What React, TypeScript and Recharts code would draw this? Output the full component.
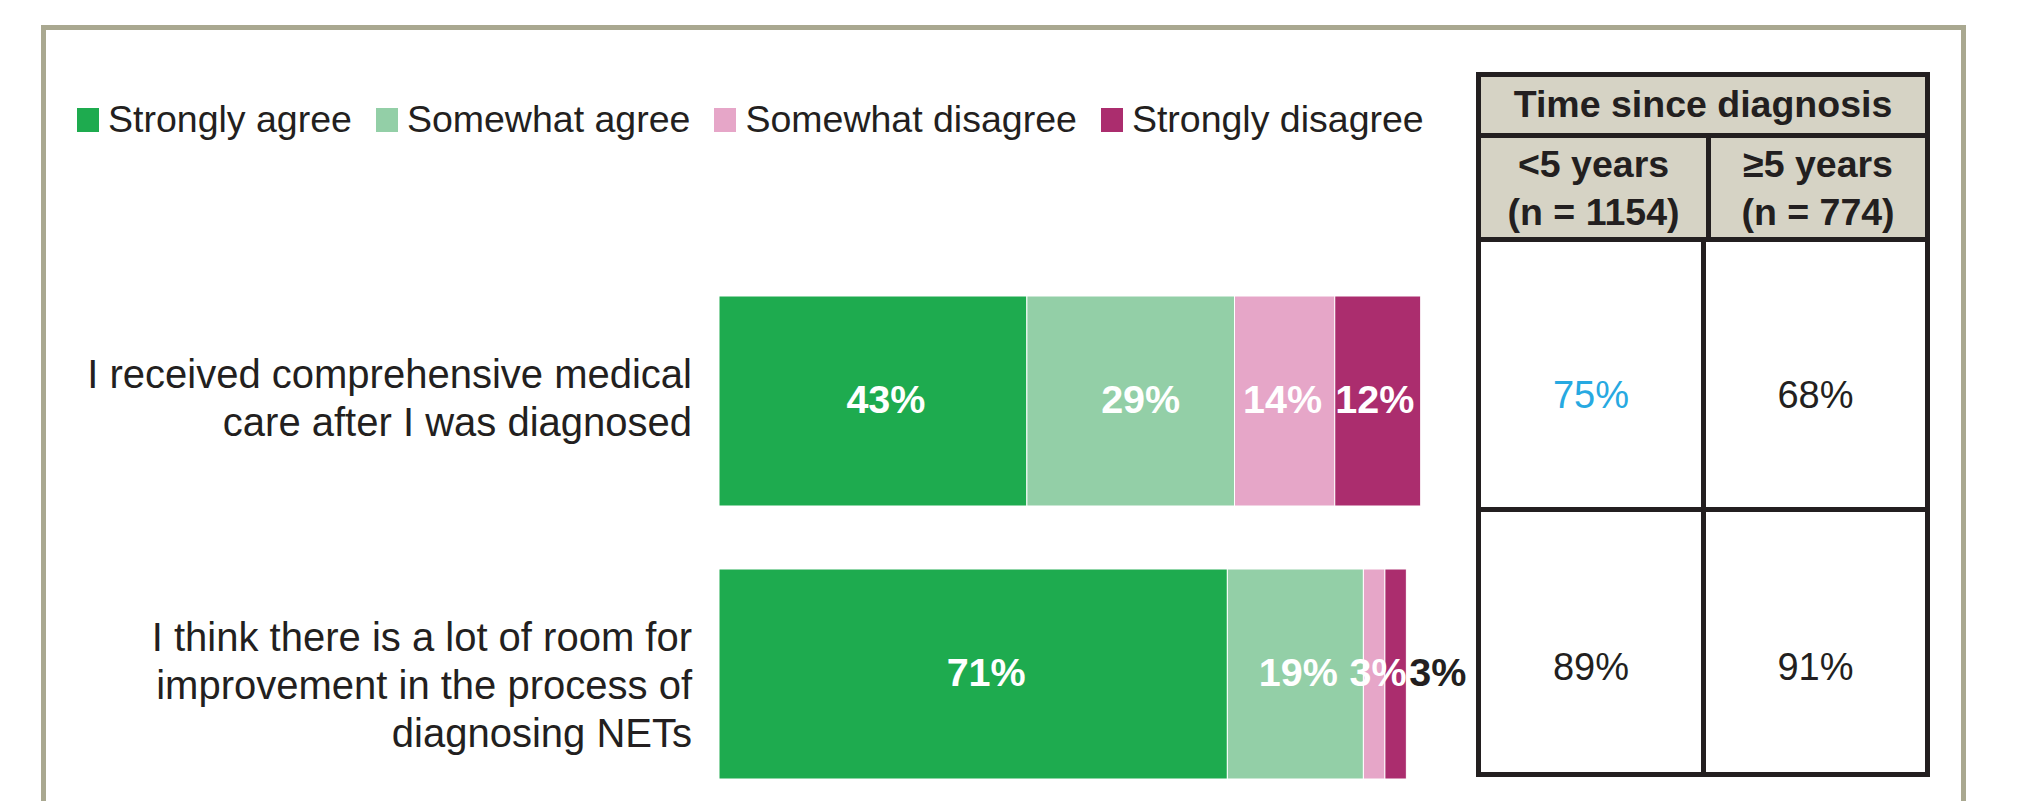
import React from "react";
import { BarChart, Bar, XAxis, YAxis, LabelList } from "recharts";

// survey data
const statements = [
  "I received comprehensive medical care after I was diagnosed",
  "I think there is a lot of room for improvement in the process of diagnosing NETs"
];
const statementLines = [
  ["I received comprehensive medical", "care after I was diagnosed"],
  ["I think there is a lot of room for", "improvement in the process of", "diagnosing NETs"]
];
const stronglyAgree = [43, 71];
const somewhatAgree = [29, 19];
const somewhatDisagree = [14, 3];
const stronglyDisagree = [12, 3];

// side table: agreement by time since diagnosis
const tableTitle = "Time since diagnosis";
const groupLabels = ["<5 years", "≥5 years"];
const groupSizes = ["(n = 1154)", "(n = 774)"];
const underFiveYears = [75, 89];
const fivePlusYears = [68, 91];

type SeriesKey = "stronglyAgree" | "somewhatAgree" | "somewhatDisagree" | "stronglyDisagree";

const SERIES: { key: SeriesKey; name: string; color: string }[] = [
  { key: "stronglyAgree", name: "Strongly agree", color: "#1EAB4F" },
  { key: "somewhatAgree", name: "Somewhat agree", color: "#93CFA7" },
  { key: "somewhatDisagree", name: "Somewhat disagree", color: "#E6A6C8" },
  { key: "stronglyDisagree", name: "Strongly disagree", color: "#AB2D6E" }
];

const data = statements.map((statement, i) => ({
  statement,
  stronglyAgree: stronglyAgree[i],
  somewhatAgree: somewhatAgree[i],
  somewhatDisagree: somewhatDisagree[i],
  stronglyDisagree: stronglyDisagree[i]
}));

const FONT = '"Liberation Sans", Arial, Helvetica, sans-serif';
const INK = "#231F20";
const FRAME = "#A9A890";
const HEAD_BG = "#D6D3C5";
const HIGHLIGHT = "#27A9E1";

// small label nudges to sit like the original
const LABEL_DX: Partial<Record<SeriesKey, number[]>> = {
  stronglyAgree: [13, 13],
  somewhatAgree: [10, 3],
  somewhatDisagree: [-2, 4],
  stronglyDisagree: [-3, 0]
};
const TICK_DY = [-3, 11];

const makeLabel = (key: SeriesKey, isLast: boolean) => (props: any) => {
  const x = Number(props.x);
  const y = Number(props.y);
  const w = Number(props.width);
  const h = Number(props.height);
  const idx = Number(props.index ?? 0);
  const baseY = y + h / 2 + 12;
  if (isLast && w < 40) {
    return (
      <text x={x + w + 3} y={baseY} fill={INK} fontSize={39.5} fontWeight="bold" fontFamily={FONT} textAnchor="start">
        {props.value}%
      </text>
    );
  }
  const dx = LABEL_DX[key]?.[idx] ?? 0;
  return (
    <text x={x + w / 2 + dx} y={baseY} fill="#FFFFFF" fontSize={39.5} fontWeight="bold" fontFamily={FONT} textAnchor="middle">
      {props.value}%
    </text>
  );
};

const StatementTick = (props: any) => {
  const { x, y, payload } = props;
  const idx = payload?.index ?? 0;
  const lines = statementLines[idx] || [String(payload?.value)];
  const lineH = 48;
  const first = Number(y) - ((lines.length - 1) * lineH) / 2 + 14 + (TICK_DY[idx] || 0);
  return (
    <text x={x} y={first} textAnchor="end" fill={INK} fontSize={40} fontFamily={FONT}>
      {lines.map((l: string, i: number) => (
        <tspan key={i} x={x} y={first + i * lineH}>
          {l}
        </tspan>
      ))}
    </text>
  );
};

const Legend = () => (
  <div style={{ position: "absolute", left: 77, top: 100, height: 40, display: "flex", alignItems: "center" }}>
    {SERIES.map((s, i) => (
      <div key={s.key} style={{ display: "flex", alignItems: "center", marginLeft: i === 0 ? 0 : 24 }}>
        <div style={{ width: 22, height: 24, background: s.color, marginRight: 9 }} />
        <span style={{ fontSize: 37.5, lineHeight: 1, color: INK, whiteSpace: "nowrap" }}>{s.name}</span>
      </div>
    ))}
  </div>
);

const LINE = 5;
const COL1 = 225;

const SideTable = () => {
  const cols = [underFiveYears, fivePlusYears];
  const rowPads = [40, 50];
  return (
    <div
      style={{
        position: "absolute",
        left: 1476,
        top: 72,
        width: 454,
        height: 705,
        border: `${LINE}px solid ${INK}`,
        boxSizing: "border-box",
        display: "flex",
        flexDirection: "column",
        color: INK
      }}
    >
      <div
        style={{
          height: 56,
          background: HEAD_BG,
          borderBottom: `${LINE}px solid ${INK}`,
          display: "flex",
          alignItems: "center",
          justifyContent: "center",
          fontWeight: "bold",
          fontSize: 37.5,
          lineHeight: 1
        }}
      >
        {tableTitle}
      </div>
      <div style={{ height: 99, display: "flex", background: HEAD_BG, borderBottom: `${LINE}px solid ${INK}` }}>
        {groupLabels.map((g, c) => (
          <div
            key={g}
            style={{
              flex: c === 0 ? `0 0 ${COL1}px` : "1 1 auto",
              borderRight: c === 0 ? `${LINE}px solid ${INK}` : "none",
              display: "flex",
              flexDirection: "column",
              alignItems: "center",
              justifyContent: "center",
              fontWeight: "bold",
              fontSize: 37.5,
              lineHeight: "48px"
            }}
          >
            <span>{g}</span>
            <span>{groupSizes[c]}</span>
          </div>
        ))}
      </div>
      {statements.map((_, r) => (
        <div
          key={r}
          style={{
            flex: r === 0 ? "0 0 265px" : "1 1 auto",
            display: "flex",
            borderBottom: r === 0 ? `${LINE}px solid ${INK}` : "none"
          }}
        >
          {cols.map((col, c) => (
            <div
              key={c}
              style={{
                flex: c === 0 ? `0 0 ${COL1}px` : "1 1 auto",
                borderRight: c === 0 ? `${LINE}px solid ${INK}` : "none",
                display: "flex",
                alignItems: "center",
                justifyContent: "center",
                paddingTop: rowPads[r],
                boxSizing: "border-box",
                fontSize: 38,
                lineHeight: 1,
                color: r === 0 && c === 0 ? HIGHLIGHT : INK
              }}
            >
              {col[r]}%
            </div>
          ))}
        </div>
      ))}
    </div>
  );
};

export default function App() {
  return (
    <div
      style={{
        position: "absolute",
        left: 0,
        top: 0,
        width: 2021,
        height: 801,
        overflow: "hidden",
        background: "#FFFFFF",
        fontFamily: FONT
      }}
    >
      <div
        style={{
          position: "absolute",
          left: 41,
          top: 25,
          width: 1925,
          height: 900,
          border: `${LINE}px solid ${FRAME}`,
          boxSizing: "border-box"
        }}
      />
      <Legend />
      <div style={{ position: "absolute", left: 0, top: 0 }}>
        <BarChart
          width={1480}
          height={810}
          data={data}
          layout="vertical"
          margin={{ top: 264, right: 45, bottom: 0, left: 0 }}
          barSize={210}
        >
          <XAxis type="number" domain={[0, 100]} hide />
          <YAxis
            type="category"
            dataKey="statement"
            width={719}
            axisLine={false}
            tickLine={false}
            tickSize={0}
            tickMargin={27}
            tick={<StatementTick />}
          />
          {SERIES.map((s, i) => (
            <Bar
              key={s.key}
              dataKey={s.key}
              name={s.name}
              stackId="a"
              fill={s.color}
              stroke="#FFFFFF"
              strokeWidth={1}
              isAnimationActive={false}
            >
              <LabelList dataKey={s.key} content={makeLabel(s.key, i === SERIES.length - 1)} />
            </Bar>
          ))}
        </BarChart>
      </div>
      <SideTable />
    </div>
  );
}
